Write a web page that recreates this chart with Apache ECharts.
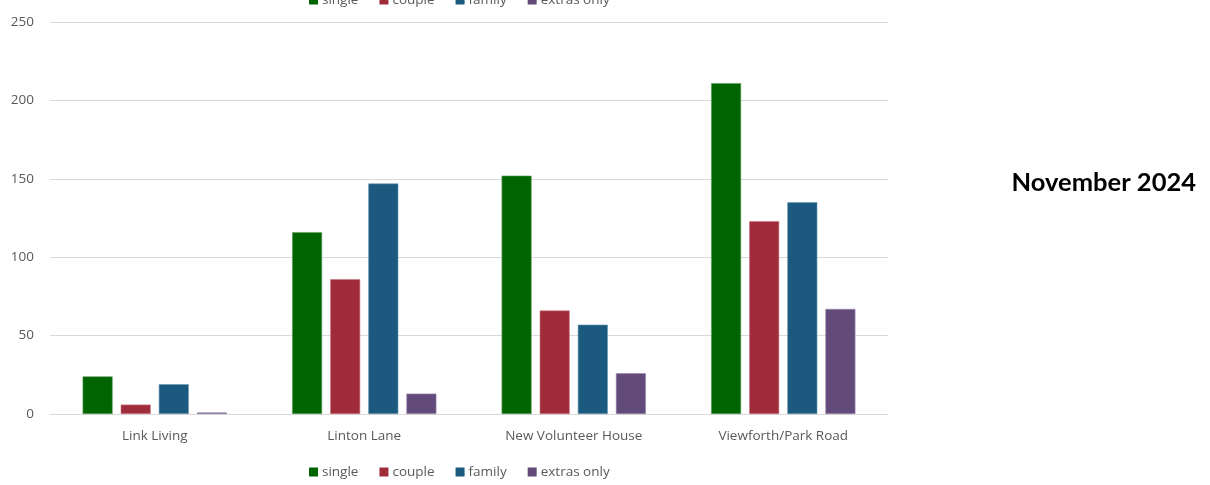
<!DOCTYPE html>
<html>
<head>
<meta charset="utf-8">
<script src="https://cdn.jsdelivr.net/npm/echarts@6/dist/echarts.min.js"></script>
<style>html,body{margin:0;padding:0;background:#fff}#c{width:1210px;height:485px}</style>
</head>
<body>
<div id="c"></div>
<script>
const categories = ['Link Living', 'Linton Lane', 'New Volunteer House', 'Viewforth/Park Road'];
const single = [24, 116, 152, 211];
const couple = [6, 86, 66, 123];
const family = [19, 147, 57, 135];
const extrasOnly = [1, 13, 26, 67];
const seriesNames = ['single', 'couple', 'family', 'extras only'];
const yTicks = { min: 0, max: 250, interval: 50 };
const titleText = 'November 2024';

const colors = ['#006400', '#A02B3A', '#1B5A7E', '#624B7A'];
const borders = ['#5f9f5f', '#c97a85', '#6a96b2', '#9a88ad'];
const font = '"Open Sans", Lato, sans-serif';
const dataSets = [single, couple, family, extrasOnly];

const chart = echarts.init(document.getElementById('c'), null, { renderer: 'canvas' });
const legendCommon = {
  data: seriesNames,
  icon: 'rect',
  itemWidth: 9,
  itemHeight: 9,
  itemGap: 21,
  itemStyle: { borderWidth: 0 },
  textStyle: { color: '#595959', fontSize: 13.5, fontFamily: font, padding: [0, 0, 0, -1] },
  left: 304,
  selectedMode: false
};
chart.setOption({
  animation: false,
  color: colors,
  title: {
    text: titleText,
    right: 9,
    top: 165,
    textStyle: { fontSize: 25.5, fontWeight: 'bold', color: '#000', fontFamily: 'Lato, sans-serif' }
  },
  legend: [
    Object.assign({}, legendCommon, { top: -12 }),
    Object.assign({}, legendCommon, { bottom: 1 })
  ],
  grid: { left: 50, right: 322, top: 22, bottom: 71 },
  xAxis: {
    type: 'category',
    data: categories,
    axisTick: { show: false },
    axisLine: { lineStyle: { color: '#d9d9d9', width: 1 } },
    axisLabel: { color: '#595959', fontSize: 13.5, fontFamily: font, margin: 15 }
  },
  yAxis: {
    type: 'value',
    min: yTicks.min,
    max: yTicks.max,
    interval: yTicks.interval,
    axisLine: { show: false },
    axisTick: { show: false },
    splitLine: { lineStyle: { color: '#d9d9d9', width: 1 } },
    axisLabel: { color: '#595959', fontSize: 13.5, fontFamily: font, margin: 16 }
  },
  series: seriesNames.map((n, i) => ({
    name: n,
    type: 'bar',
    data: dataSets[i],
    barWidth: 30,
    barGap: '27%',
    itemStyle: { color: colors[i], borderColor: borders[i], borderWidth: 0.6 }
  }))
});
</script>
</body>
</html>
